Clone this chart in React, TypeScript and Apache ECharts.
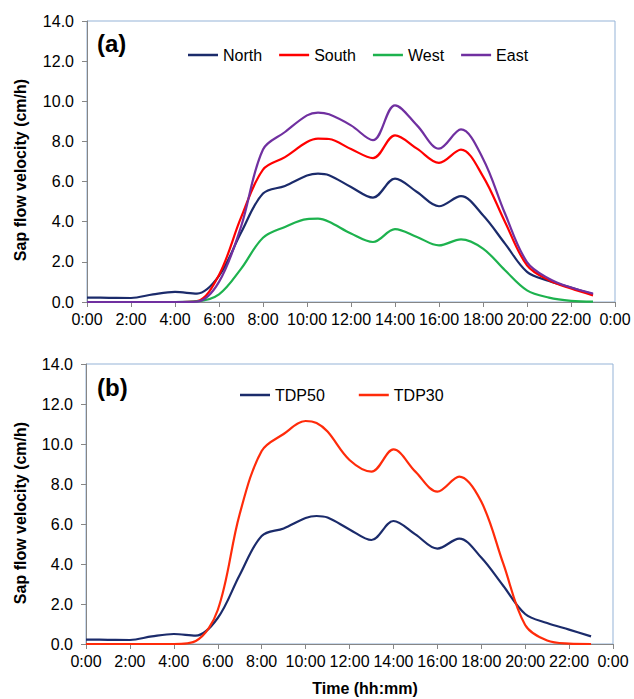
import React, { useEffect, useRef } from "react";
import * as echarts from "echarts";

const hours = [0, 1, 2, 3, 4, 5, 6, 7, 8, 9, 10, 10.5, 11, 12, 13, 14, 15, 16, 17, 18, 19, 20, 21, 22, 23];

const north = [0.22, 0.21, 0.2, 0.38, 0.5, 0.42, 1.3, 3.45, 5.4, 5.78, 6.3, 6.4, 6.32, 5.73, 5.2, 6.15, 5.48, 4.77, 5.27, 4.32, 2.91, 1.5, 1.05, 0.72, 0.38];
const south = [0, 0, 0, 0, 0, 0.05, 1.35, 4.2, 6.6, 7.22, 7.97, 8.14, 8.12, 7.62, 7.17, 8.3, 7.64, 6.93, 7.59, 6.26, 3.99, 1.83, 1.08, 0.67, 0.33];
const west = [0, 0, 0, 0, 0, 0.03, 0.38, 1.65, 3.2, 3.74, 4.13, 4.15, 4.0, 3.41, 2.99, 3.63, 3.24, 2.82, 3.12, 2.66, 1.58, 0.58, 0.22, 0.06, 0.02];
const east = [0, 0, 0, 0, 0, 0.02, 1.0, 3.75, 7.6, 8.47, 9.3, 9.44, 9.35, 8.8, 8.06, 9.8, 8.8, 7.64, 8.6, 7.14, 4.41, 1.99, 1.16, 0.72, 0.42];

const tdp50 = [0.22, 0.21, 0.2, 0.38, 0.5, 0.42, 1.3, 3.45, 5.4, 5.78, 6.3, 6.4, 6.32, 5.73, 5.2, 6.15, 5.48, 4.77, 5.27, 4.32, 2.91, 1.5, 1.05, 0.72, 0.38];
const tdp30 = [0, 0, 0, 0, 0, 0.15, 1.7, 6.5, 9.65, 10.5, 11.15, 11.05, 10.62, 9.2, 8.62, 9.73, 8.62, 7.62, 8.37, 7.12, 4.03, 0.95, 0.17, 0.02, 0];

const panelLabels = ["(a)", "(b)"];
const yTitle = "Sap flow velocity (cm/h)";
const xTitle = "Time (hh:mm)";

const FONT = 'Arial, "Liberation Sans", sans-serif';
const AXIS_COLOR = "#868686";
const SMOOTH = 0.35;

function pairs(arr: number[]) {
  return hours.map((h, i) => [h, arr[i]]);
}

function xAxisCfg(gridIndex: number) {
  return {
    gridIndex,
    type: "value",
    min: 0,
    max: 24,
    interval: 2,
    axisLine: { show: true, lineStyle: { color: AXIS_COLOR, width: 1 } },
    axisTick: { show: true, length: 5, lineStyle: { color: AXIS_COLOR } },
    axisLabel: {
      fontSize: 16,
      color: "#000",
      fontFamily: FONT,
      margin: 9,
      showMaxLabel: true,
      showMinLabel: true,
      formatter: (v: number) => `${Math.round(v) % 24}:00`,
    },
    splitLine: { show: false },
  };
}

function yAxisCfg(gridIndex: number) {
  return {
    gridIndex,
    type: "value",
    min: 0,
    max: 14,
    interval: 2,
    axisLine: { show: true, lineStyle: { color: AXIS_COLOR, width: 1 } },
    axisTick: { show: true, length: 5, lineStyle: { color: AXIS_COLOR } },
    axisLabel: {
      fontSize: 16,
      color: "#000",
      fontFamily: FONT,
      margin: 13,
      formatter: (v: number) => v.toFixed(1),
    },
    splitLine: { show: false },
  };
}

function lineSeries(name: string, data: number[], color: string, idx: number) {
  return {
    name,
    type: "line",
    xAxisIndex: idx,
    yAxisIndex: idx,
    data: pairs(data),
    smooth: SMOOTH,
    showSymbol: false,
    symbol: "none",
    lineStyle: { color, width: 2.2 },
    itemStyle: { color },
  };
}

export default function App() {
  const ref = useRef<HTMLDivElement>(null);
  useEffect(() => {
    if (!ref.current) return;
    const chart = echarts.init(ref.current, undefined, { renderer: "svg" });
    const legendText = { fontSize: 16, color: "#000", fontFamily: FONT };
    chart.setOption({
      animation: false,
      backgroundColor: "#fff",
      grid: [
        { left: 87, top: 21, width: 528, height: 281, show: true, borderColor: "#95b3d7", borderWidth: 1 },
        { left: 86, top: 364, width: 527, height: 280, show: true, borderColor: "#95b3d7", borderWidth: 1 },
      ],
      xAxis: [xAxisCfg(0), xAxisCfg(1)],
      yAxis: [yAxisCfg(0), yAxisCfg(1)],
      legend: [
        {
          data: ["North", "South", "West", "East"],
          left: 183,
          top: 42,
          icon: "rect",
          itemWidth: 30,
          itemHeight: 2.5,
          itemGap: 17,
          textStyle: legendText,
        },
        {
          data: ["TDP50", "TDP30"],
          left: 235,
          top: 382,
          icon: "rect",
          itemWidth: 30,
          itemHeight: 2.5,
          itemGap: 34,
          textStyle: legendText,
        },
      ],
      series: [
        lineSeries("North", north, "#1b2b6b", 0),
        lineSeries("South", south, "#ff0000", 0),
        lineSeries("West", west, "#1db24e", 0),
        lineSeries("East", east, "#7030a0", 0),
        lineSeries("TDP50", tdp50, "#1b2b6b", 1),
        lineSeries("TDP30", tdp30, "#ff2b0a", 1),
      ],
      graphic: [
        { type: "text", left: 97, top: 31, style: { text: panelLabels[0], font: `bold 24px ${FONT}`, fill: "#000" } },
        { type: "text", left: 97, top: 375, style: { text: panelLabels[1], font: `bold 24px ${FONT}`, fill: "#000" } },
        { type: "text", x: 20, y: 170, rotation: Math.PI / 2, style: { text: yTitle, font: `bold 16px ${FONT}`, fill: "#000", align: "center", verticalAlign: "middle" } },
        { type: "text", x: 20, y: 513, rotation: Math.PI / 2, style: { text: yTitle, font: `bold 16px ${FONT}`, fill: "#000", align: "center", verticalAlign: "middle" } },
        { type: "text", x: 365, y: 688, style: { text: xTitle, font: `bold 16px ${FONT}`, fill: "#000", align: "center", verticalAlign: "middle" } },
      ],
    });
    return () => chart.dispose();
  }, []);
  return <div ref={ref} style={{ position: "absolute", left: 0, top: 0, width: 634, height: 699 }} />;
}
